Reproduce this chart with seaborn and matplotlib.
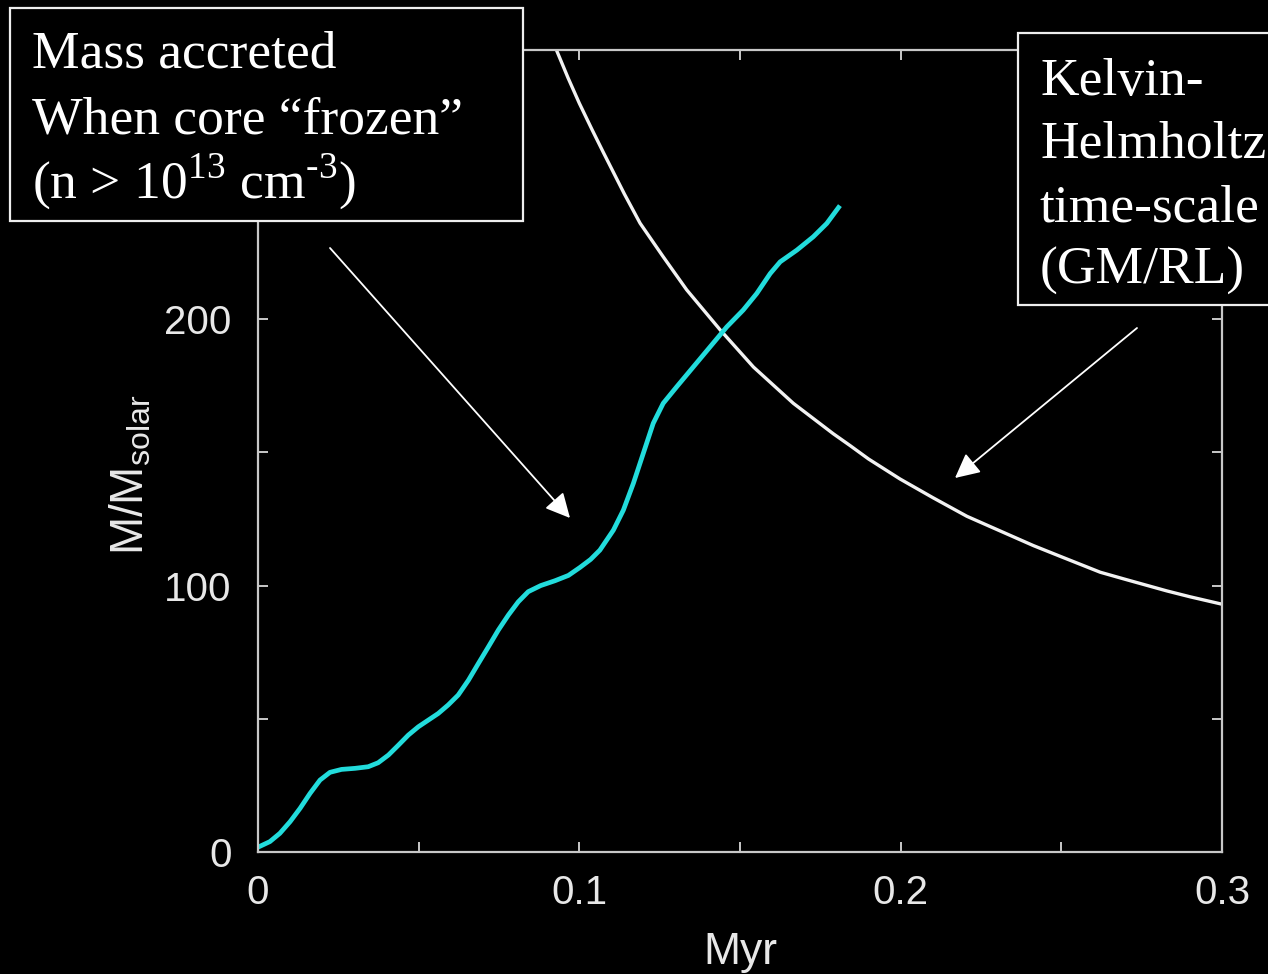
import seaborn as sns
import pandas as pd
import matplotlib.pyplot as plt
from matplotlib.patches import Rectangle
from matplotlib.ticker import MultipleLocator

# accreted mass (cyan curve)
acc_myr = [0.0000, 0.0037, 0.0068, 0.0100, 0.0131, 0.0162, 0.0193, 0.0224,
           0.0260, 0.0302, 0.0343, 0.0374, 0.0406, 0.0437, 0.0468, 0.0499,
           0.0530, 0.0561, 0.0592, 0.0623, 0.0655, 0.0686, 0.0717, 0.0748,
           0.0779, 0.0810, 0.0841, 0.0880, 0.0924, 0.0966, 0.1002, 0.1035,
           0.1064, 0.1106, 0.1137, 0.1168, 0.1199, 0.1230, 0.1261, 0.1303,
           0.1355, 0.1407, 0.1459, 0.1510, 0.1552, 0.1594, 0.1625, 0.1677,
           0.1728, 0.1770, 0.1811]
acc_mass = [1.8, 3.9, 7.0, 11.4, 16.4, 22.0, 27.0, 29.9,
            31.0, 31.4, 32.0, 33.5, 36.4, 40.1, 43.9, 47.0,
            49.5, 52.0, 55.2, 58.9, 64.5, 70.8, 77.0, 83.3,
            88.9, 93.9, 97.7, 100.0, 101.8, 103.8, 106.8, 109.8,
            113.3, 120.8, 128.3, 138.3, 149.6, 160.9, 168.4, 174.6,
            182.1, 189.6, 197.1, 203.4, 209.6, 217.1, 221.5, 225.9,
            230.9, 235.9, 242.6]

# Kelvin-Helmholtz time-scale (white curve)
kh_myr = [0.0927, 0.0965, 0.1000, 0.1040, 0.1075, 0.1140, 0.1189, 0.1261,
          0.1334, 0.1438, 0.1542, 0.1666, 0.1790, 0.1843, 0.1900, 0.1998,
          0.2100, 0.2206, 0.2300, 0.2413, 0.2500, 0.2621, 0.2700, 0.2828,
          0.2900, 0.3000]
kh_mass = [301.5, 290.5, 281, 271, 262.5, 247, 236, 223.4,
           211, 196, 182, 168.4, 157, 152.5, 147.5, 140,
           133, 126, 121, 115, 110.8, 105, 102.3, 98,
           95.8, 93]

x_ticks = [0, 0.1, 0.2, 0.3]
y_ticks = [0, 100, 200]

box1_lines = ["Mass accreted", "When core \u201cfrozen\u201d",
              "(n > 10$^{\\mathrm{13}}$ cm$^{\\mathrm{\u20103}}$)"]
box2_lines = ["Kelvin-", "Helmholtz", "time-scale", "(GM/RL)"]

sns.set_theme(style="ticks", rc={
    "axes.facecolor": "black", "figure.facecolor": "black",
    "axes.edgecolor": "#c8c8c8", "axes.linewidth": 1.6,
    "xtick.color": "#c8c8c8", "ytick.color": "#c8c8c8",
    "xtick.labelcolor": "#e8e8e8", "ytick.labelcolor": "#e8e8e8",
    "xtick.direction": "in", "ytick.direction": "in",
    "xtick.top": True, "ytick.right": True,
    "text.color": "white", "axes.labelcolor": "#e8e8e8",
})
plt.rcParams["font.family"] = ["Liberation Sans", "DejaVu Sans"]
plt.rcParams["mathtext.fontset"] = "custom"
plt.rcParams["mathtext.rm"] = "Liberation Serif"
plt.rcParams["mathtext.sf"] = "Liberation Sans"

W, H = 1268, 974
fig = plt.figure(figsize=(W / 100, H / 100), dpi=100)
ax = fig.add_axes([258 / W, (H - 852) / H, (1222 - 258) / W, (852 - 50) / H])

acc = pd.DataFrame({"Myr": acc_myr, "mass": acc_mass})
kh = pd.DataFrame({"Myr": kh_myr, "mass": kh_mass})
sns.lineplot(data=kh, x="Myr", y="mass", ax=ax, color="#f2f2f2", linewidth=2.4,
             solid_joinstyle="round", solid_capstyle="round")
sns.lineplot(data=acc, x="Myr", y="mass", ax=ax, color="#22dcdc", linewidth=3.4,
             solid_joinstyle="round", solid_capstyle="butt")

ax.set_xlim(0, 0.3)
ax.set_ylim(0, 301)
ax.set_xticks(x_ticks)
ax.set_xticklabels(["0", "0.1", "0.2", "0.3"])
ax.set_yticks(y_ticks)
ax.xaxis.set_minor_locator(MultipleLocator(0.05))
ax.yaxis.set_minor_locator(MultipleLocator(50))
ax.tick_params(which="both", length=7, width=1.4)
ax.tick_params(axis="x", labelsize=29, pad=16)
ax.tick_params(axis="y", labelsize=29, pad=19)

ax.set_xlabel("Myr", fontsize=32)
ax.xaxis.set_label_coords(0.5, -0.1)
ax.set_ylabel(r"M/M$_{\mathsf{solar}}$", fontsize=33)
ax.yaxis.set_label_coords(-0.108, 0.47)

# annotation boxes drawn over the frame
serif = ["Liberation Serif", "DejaVu Serif"]
fig.patches.append(Rectangle((10 / W, 1 - 221 / H), 513 / W, 213 / H,
                             transform=fig.transFigure, facecolor="black",
                             edgecolor="#eeeeee", linewidth=1.6, zorder=5))
fig.patches.append(Rectangle((1018 / W, 1 - 305 / H), 300 / W, 272 / H,
                             transform=fig.transFigure, facecolor="black",
                             edgecolor="#eeeeee", linewidth=1.6, zorder=5))
for i, line in enumerate(box1_lines):
    fig.text(32 / W, 1 - (68 + 65 * i) / H, line, family=serif, fontsize=38.5,
             va="baseline", ha="left", color="white", zorder=6)
for i, line in enumerate(box2_lines):
    fig.text(1040 / W, 1 - (95 + 63 * i) / H, line, family=serif, fontsize=38.5,
             va="baseline", ha="left", color="white", zorder=6)

arrow = dict(arrowstyle="-|>,head_length=1.0,head_width=0.5", color="white",
             linewidth=1.3, shrinkA=0, shrinkB=0, mutation_scale=15)
ax.annotate("", xy=(570 / W, 1 - 518 / H), xytext=(330 / W, 1 - 248 / H),
            xycoords="figure fraction", textcoords="figure fraction",
            arrowprops=arrow)
ax.annotate("", xy=(955 / W, 1 - 478 / H), xytext=(1137 / W, 1 - 328 / H),
            xycoords="figure fraction", textcoords="figure fraction",
            arrowprops=arrow)

fig.savefig("out.png", dpi=100, facecolor="black")
